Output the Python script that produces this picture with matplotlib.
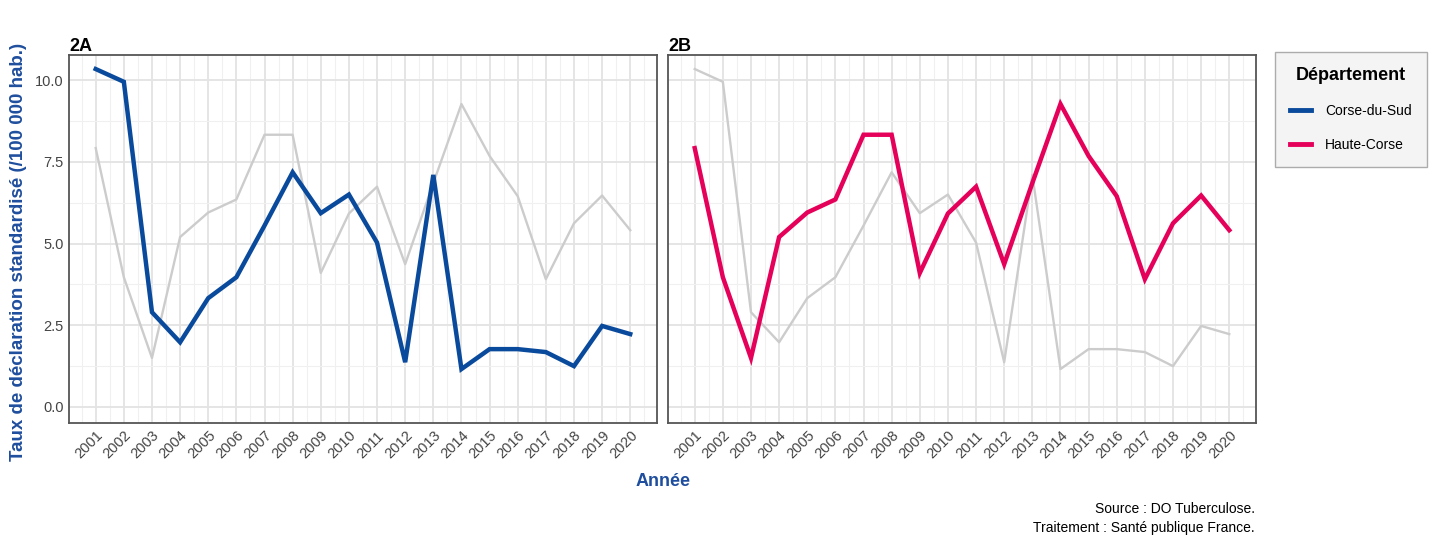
import matplotlib
matplotlib.use('Agg')
import matplotlib.pyplot as plt
from matplotlib.lines import Line2D
from matplotlib.ticker import MultipleLocator

plt.rcParams['font.family'] = ['Liberation Sans', 'DejaVu Sans']

years = list(range(2001, 2021))
corse_du_sud = [10.34, 9.95, 2.9, 1.98, 3.33, 3.97, 5.55, 7.18, 5.93, 6.5,
                5.03, 1.37, 7.1, 1.16, 1.77, 1.77, 1.68, 1.25, 2.48, 2.23]
haute_corse = [7.92, 3.97, 1.5, 5.2, 5.95, 6.35, 8.33, 8.33, 4.1, 5.92,
               6.74, 4.37, 6.85, 9.27, 7.68, 6.45, 3.91, 5.62, 6.47, 5.41]
panels = ["2A", "2B"]
dept_names = ["Corse-du-Sud", "Haute-Corse"]
dept_colors = ["#0a4a9c", "#e5005a"]
yticks = [0.0, 2.5, 5.0, 7.5, 10.0]

BLUE_TXT = '#1f4e9e'

fig = plt.figure(figsize=(14.31, 5.37), dpi=100)
ax_l = fig.add_axes([0.0482, 0.2123, 0.4109, 0.6853])
ax_r = fig.add_axes([0.4668, 0.2123, 0.4109, 0.6853])

series = [corse_du_sud, haute_corse]
for i, ax in enumerate([ax_l, ax_r]):
    other = series[1 - i]
    ax.plot(years, other, color='#cccccc', lw=1.7, zorder=2)
    ax.plot(years, series[i], color=dept_colors[i], lw=3.2, zorder=3,
            solid_joinstyle='miter')
    ax.set_xlim(2000.05, 2020.95)
    ax.set_ylim(-0.49, 10.77)
    ax.set_xticks(years)
    ax.set_xticklabels([str(y) for y in years], rotation=45, ha='right',
                       rotation_mode='anchor', fontsize=10.5, color='#444444')
    ax.xaxis.set_minor_locator(MultipleLocator(0.5))
    ax.set_yticks(yticks)
    ax.yaxis.set_minor_locator(MultipleLocator(1.25))
    if i == 0:
        ax.set_yticklabels([f'{v:.1f}' for v in yticks], fontsize=10.5, color='#444444')
    else:
        ax.set_yticklabels([])
    ax.tick_params(which='both', length=0, pad=4)
    ax.grid(which='major', color='#e3e3e3', lw=1.3, zorder=0)
    ax.grid(which='minor', color='#f0f0f0', lw=0.8, zorder=0)
    ax.set_axisbelow(True)
    for s in ax.spines.values():
        s.set_color('#555555')
        s.set_linewidth(1.3)
    ax.set_title(panels[i], loc='left', fontsize=13, fontweight='bold', pad=3)

fig.text(0.013, 0.53, 'Taux de déclaration standardisé (/100 000 hab.)',
         rotation=90, ha='center', va='center', fontsize=13.5,
         fontweight='bold', color=BLUE_TXT)
fig.text(0.463, 0.104, 'Année', ha='center', va='center', fontsize=13,
         fontweight='bold', color=BLUE_TXT)

handles = [Line2D([], [], color=c, lw=3.5) for c in dept_colors]
leg = fig.legend(handles, dept_names, title='Département',
                 loc='upper left', bbox_to_anchor=(0.891, 0.903),
                 borderaxespad=0,
                 frameon=True, fancybox=False, fontsize=10,
                 title_fontproperties={'weight': 'bold', 'size': 13},
                 handlelength=1.5, borderpad=1.1, labelspacing=1.45,
                 handletextpad=1.0)
leg._legend_box.sep = 14
leg.get_frame().set_facecolor('#f2f2f2')
leg.get_frame().set_edgecolor('#999999')
leg.get_frame().set_linewidth(1.0)

fig.text(0.877, 0.035, 'Source : DO Tuberculose.\nTraitement : Santé publique France.',
         ha='right', va='center', fontsize=10, linespacing=1.45)

fig.savefig('out.png', dpi=100)
